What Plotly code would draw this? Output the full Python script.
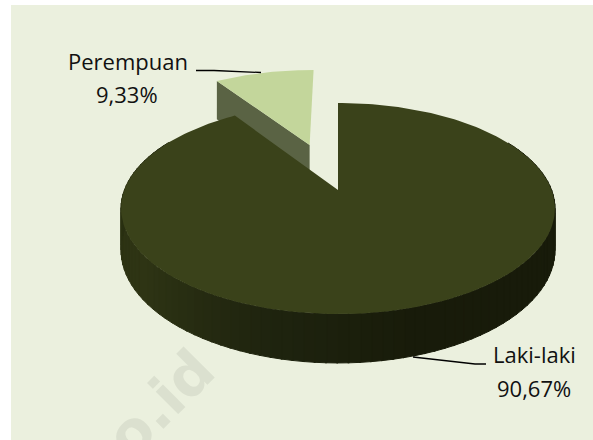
import math
import numpy as np
import plotly.graph_objects as go

categories = ["Laki-laki", "Perempuan"]
values = [90.67, 9.33]
value_labels = ["90,67%", "9,33%"]

W, H = 593, 440
CX, CY = 338.0, 190.0      # pie centre on the page
A, B, K = 213.6, 102.3, 0.175  # perspective ellipse
DEPTH_MAIN, DEPTH_SLICE = 40.4, 47.0
PULL = 0.498

TOP_MAIN = "#3a421a"
TOP_SLICE = "#c3d69b"
WALL_SLICE = "#5a6344"
BG = "#ebf0de"


def project(u, v, h=0.0):
    s = 1.0 / (1.0 - K * v)
    return CX + A * u * s, CY + (B * v + h) * s


def rim(t0, t1, n, ox=0.0, oy=0.0):
    # t is clockwise from 12 o'clock, in radians
    t = np.linspace(t0, t1, n)
    return ox + np.sin(t), oy - np.cos(t)


def poly(xs, ys, color, line=False):
    return go.Scatter(
        x=list(xs), y=list(ys), mode="lines", fill="toself", fillcolor=color,
        line=dict(color=color, width=1.0 if line else 0),
        hoverinfo="skip", showlegend=False,
    )


main_end = 2 * math.pi * values[0] / sum(values)
slice_mid = (main_end + 2 * math.pi) / 2
ox, oy = PULL * math.sin(slice_mid), -PULL * math.cos(slice_mid)

fig = go.Figure()

# pulled slice: wall along its front radial edge, then the top face
corner_u = ox + math.sin(main_end)
corner_v = oy - math.cos(main_end)
ax_t, ay_t = project(ox, oy)
ax_b, ay_b = project(ox, oy, DEPTH_SLICE)
cx_t, cy_t = project(corner_u, corner_v)
cx_b, cy_b = project(corner_u, corner_v, DEPTH_SLICE)
fig.add_trace(poly([ax_t, cx_t, cx_b, ax_b, ax_t], [ay_t, cy_t, cy_b, ay_b, ay_t], WALL_SLICE))

u, v = rim(main_end, 2 * math.pi, 40, ox, oy)
sx, sy = project(np.r_[ox, u, ox], np.r_[oy, v, oy])
fig.add_trace(poly(sx, sy, TOP_SLICE))

# main slice: outer wall in shaded bands
stops = [(math.radians(60), (28, 32, 12)), (math.radians(125), (24, 27, 10)),
         (math.radians(160), (24, 27, 10)), (math.radians(195), (31, 36, 15)),
         (math.radians(235), (47, 53, 21)), (math.radians(265), (44, 50, 19)),
         (math.radians(300), (34, 39, 15))]
ts = np.linspace(stops[0][0], stops[-1][0], 97)
for t0, t1 in zip(ts[:-1], ts[1:]):
    mid = (t0 + t1) / 2
    rgb = [np.interp(mid, [s[0] for s in stops], [s[1][i] for s in stops]) for i in range(3)]
    color = "rgb(%d,%d,%d)" % tuple(rgb)
    u, v = rim(t0, t1 + 0.006, 4)
    x_t, y_t = project(u, v)
    x_b, y_b = project(u, v, DEPTH_MAIN)
    fig.add_trace(poly(np.r_[x_t, x_b[::-1], x_t[0]], np.r_[y_t, y_b[::-1], y_t[0]], color, True))

# main slice: top face
u, v = rim(0, main_end, 240)
mx, my = project(np.r_[0, u, 0], np.r_[0, v, 0])
fig.add_trace(poly(mx, my, TOP_MAIN))

# leader lines
fig.add_trace(go.Scatter(x=[196, 214, 261], y=[70.5, 70.5, 72.5], mode="lines",
                         line=dict(color="#000000", width=1.3),
                         hoverinfo="skip", showlegend=False))
fig.add_trace(go.Scatter(x=[413, 475, 486], y=[357, 364, 364], mode="lines",
                         line=dict(color="#000000", width=1.3),
                         hoverinfo="skip", showlegend=False))

FONT = dict(family="Open Sans", size=22, color="#111111")
annotations = [
    dict(x=127.5, y=61, text=categories[1]),
    dict(x=127, y=94, text=value_labels[1]),
    dict(x=534.5, y=354, text=categories[0]),
    dict(x=534, y=388, text=value_labels[0]),
]
fig.update_layout(
    width=W, height=H, autosize=False,
    margin=dict(l=0, r=0, t=0, b=0),
    paper_bgcolor="#ffffff", plot_bgcolor="#ffffff", showlegend=False,
    xaxis=dict(range=[0, W], visible=False, fixedrange=True),
    yaxis=dict(range=[H, 0], visible=False, fixedrange=True),
    shapes=[dict(type="rect", xref="x", yref="y", x0=11, y0=5, x1=W, y1=H,
                 fillcolor=BG, line_width=0, layer="below")],
    annotations=[
        dict(x=160, y=404, xref="x", yref="y", text="o.id", textangle=-45, showarrow=False,
             font=dict(family="DejaVu Sans", size=58, color="#dbe0cf", weight="bold")),
    ] + [dict(a, xref="x", yref="y", showarrow=False, font=FONT, align="center", borderpad=0) for a in annotations],
)
fig.write_html("out.html", config=dict(displayModeBar=False),
               post_script="document.body.style.margin='0';document.documentElement.style.overflow='hidden';")
